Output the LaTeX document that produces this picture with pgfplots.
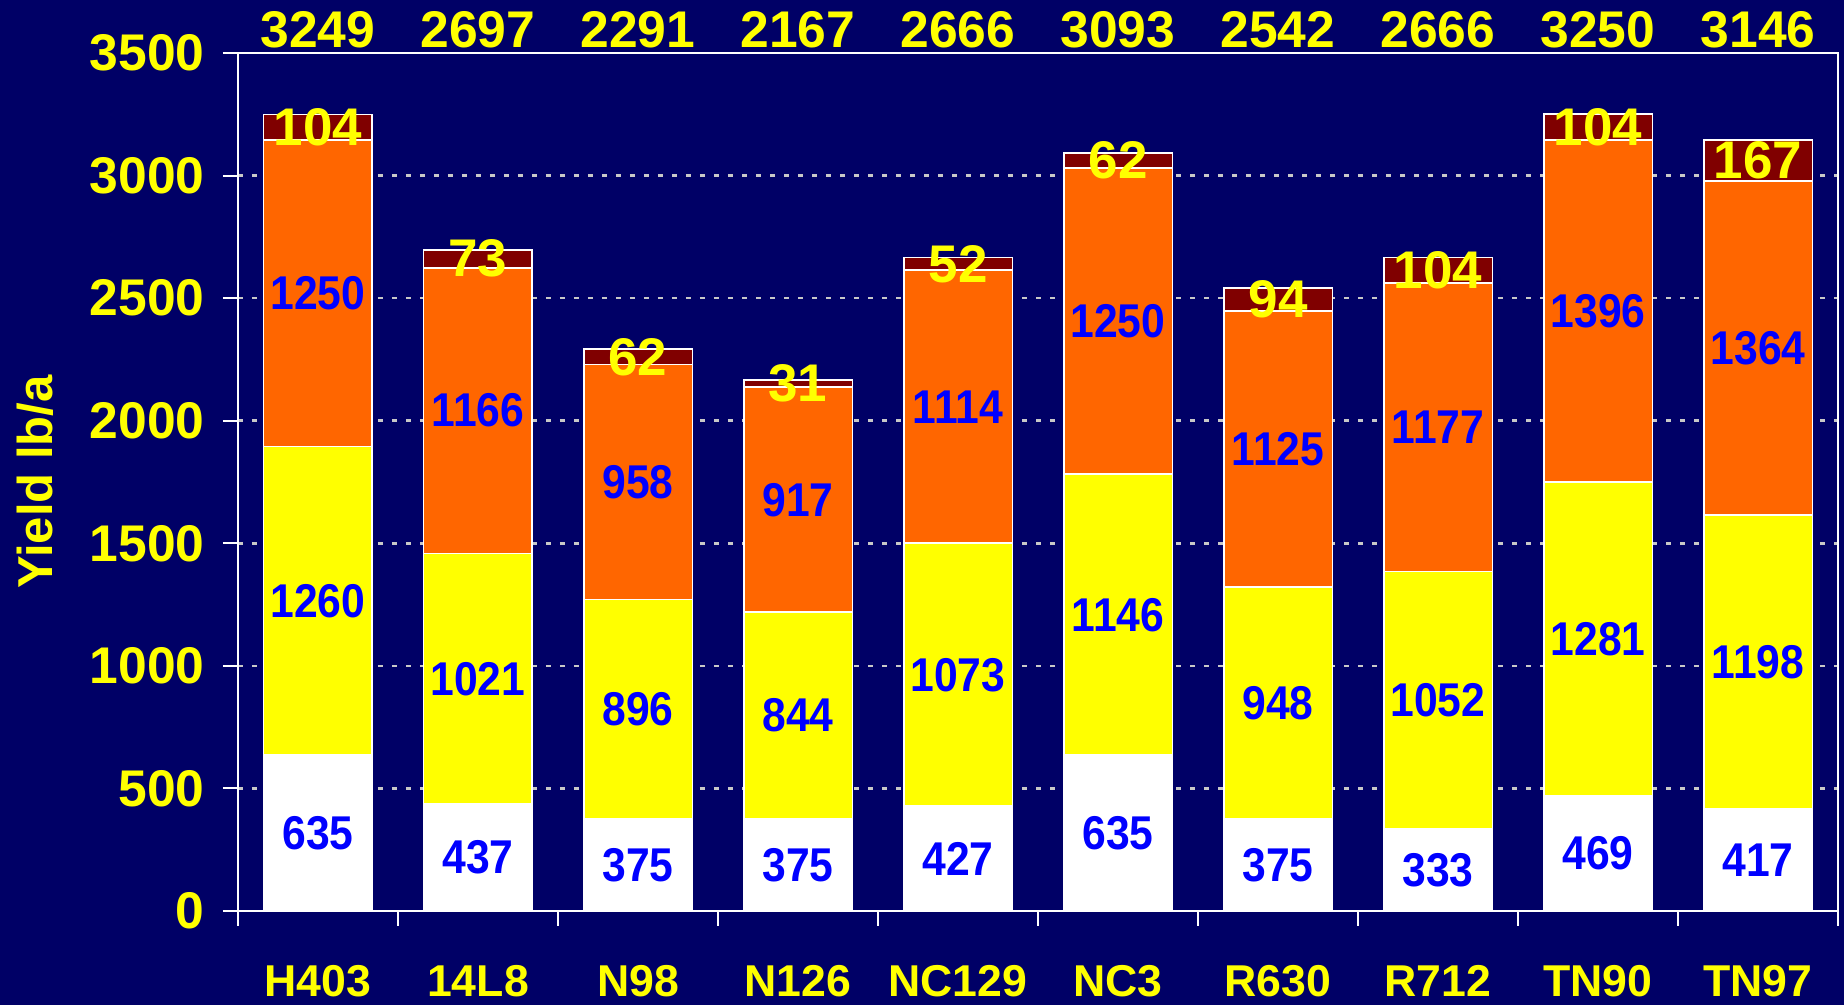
\documentclass[border=0pt]{standalone}
\usepackage{fontspec}
\setmainfont{Liberation Sans}
\newfontfamily\narrowfont{Liberation Sans}[FakeStretch=0.9]
\usepackage{pgfplots}
\usepackage{pgfplotstable}
\pgfplotsset{compat=1.18}
\definecolor{navy}{RGB}{0,0,102}
\definecolor{ylw}{RGB}{255,255,0}
\definecolor{org}{RGB}{255,102,0}
\definecolor{dred}{RGB}{128,0,0}
\definecolor{lblue}{RGB}{0,0,255}
\definecolor{gridgray}{RGB}{200,200,200}

\pgfplotstableread{
cat w yl or dr t
0 635 1260 1250 104 3249
1 437 1021 1166 73 2697
2 375 896 958 62 2291
3 375 844 917 31 2167
4 427 1073 1114 52 2666
5 635 1146 1250 62 3093
6 375 948 1125 94 2542
7 333 1052 1177 104 2666
8 469 1281 1396 104 3250
9 417 1198 1364 167 3146
}\data

\begin{document}
\begin{tikzpicture}
\fill[navy] (-119pt,-47pt) rectangle (803pt,455.5pt);
\begin{axis}[
  at={(0,0)}, anchor=south west,
  scale only axis, width=800pt, height=429pt,
  ybar stacked, bar width=0.68,
  xmin=-0.5, xmax=9.5, ymin=0, ymax=3500,
  ytick={0,500,...,3500},
  xtick={-0.5,0.5,...,9.5}, xticklabels={},
  extra x ticks={0,1,2,3,4,5,6,7,8,9},
  extra x tick labels={H403,14L8,N98,N126,NC129,NC3,R630,R712,TN90,TN97},
  extra x tick style={major tick length=0pt, grid=none,
     xticklabel style={font=\fontsize{22.3}{24}\selectfont\bfseries, text=ylw, anchor=north, inner sep=0pt, yshift=-27pt}},
  tick align=outside, major tick length=7.5pt,
  xtick pos=left, ytick pos=left,
  axis line style={white, line width=1pt},
  every tick/.style={white, line width=1pt},
  ymajorgrids,
  grid style={color=gridgray, line width=1.3pt, dash pattern=on 2.5pt off 4.5pt},
  yticklabel style={font=\fontsize{25.8}{27}\selectfont\bfseries, text=ylw, anchor=east, inner sep=0pt, xshift=-9pt},
  /pgf/number format/1000 sep={},
  /pgf/number format/assume math mode=true,
  ylabel={Yield lb/a},
  ylabel style={at={(axis description cs:-0.1269,0.5)}, rotate=0, anchor=center, font=\fontsize{24.5}{26}\selectfont\bfseries, text=ylw},
]
\addplot[fill=white, draw=white, line width=0.9pt] table[x=cat, y=w]{\data};
\addplot[fill=ylw, draw=white, line width=0.9pt] table[x=cat, y=yl]{\data};
\addplot[fill=org, draw=white, line width=0.9pt] table[x=cat, y=or]{\data};
\addplot[fill=dred, draw=white, line width=0.9pt] table[x=cat, y=dr]{\data};
\end{axis}
\begin{axis}[
  at={(0,0)}, anchor=south west,
  scale only axis, width=800pt, height=429pt,
  xmin=-0.5, xmax=9.5, ymin=0, ymax=3500,
  hide axis, clip=false,
]
\addplot[draw=none, nodes near coords, point meta=explicit symbolic,
  every node near coord/.append style={font=\narrowfont\fontsize{23.7}{25}\selectfont\bfseries, text=lblue, anchor=center, inner sep=0pt}]
  table[x=cat, y expr=\thisrow{w}/2, meta=w]{\data};
\addplot[draw=none, nodes near coords, point meta=explicit symbolic,
  every node near coord/.append style={font=\narrowfont\fontsize{23.7}{25}\selectfont\bfseries, text=lblue, anchor=center, inner sep=0pt}]
  table[x=cat, y expr=\thisrow{w}+\thisrow{yl}/2, meta=yl]{\data};
\addplot[draw=none, nodes near coords, point meta=explicit symbolic,
  every node near coord/.append style={font=\narrowfont\fontsize{23.7}{25}\selectfont\bfseries, text=lblue, anchor=center, inner sep=0pt}]
  table[x=cat, y expr=\thisrow{w}+\thisrow{yl}+\thisrow{or}/2, meta=or]{\data};
\addplot[draw=none, nodes near coords, point meta=explicit symbolic,
  every node near coord/.append style={font=\fontsize{26.5}{28}\selectfont\bfseries, text=ylw, anchor=center, inner sep=0pt}]
  table[x=cat, y expr=\thisrow{w}+\thisrow{yl}+\thisrow{or}+\thisrow{dr}/2, meta=dr]{\data};
\addplot[draw=none, nodes near coords, point meta=explicit symbolic,
  every node near coord/.append style={font=\fontsize{25.8}{27}\selectfont\bfseries, text=ylw, anchor=south, inner sep=0pt, yshift=2.5pt}]
  table[x=cat, y expr=3500, meta=t]{\data};
\end{axis}
\pgfresetboundingbox
\path (-119pt,-47pt) rectangle (803pt,455.5pt);
\end{tikzpicture}
\end{document}
